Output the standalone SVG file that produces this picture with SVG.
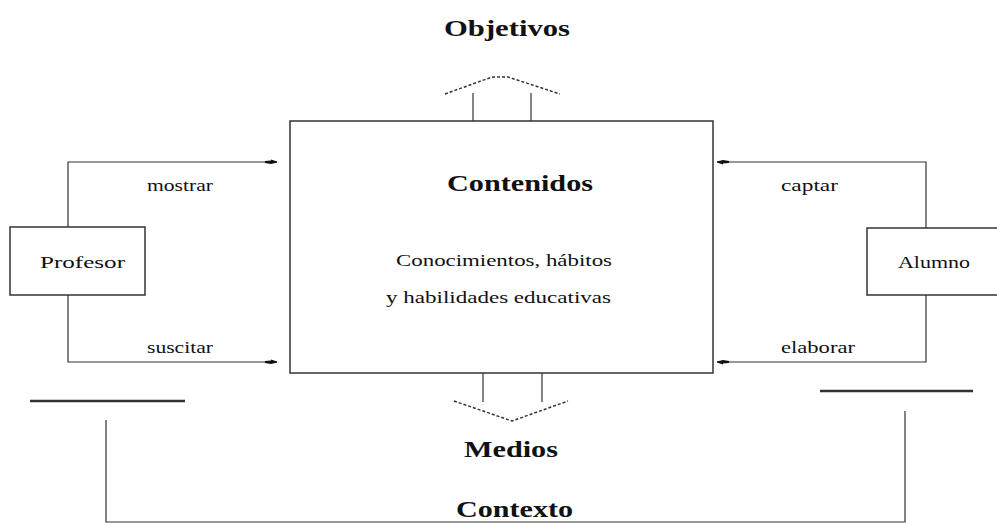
<svg xmlns="http://www.w3.org/2000/svg" width="997" height="525" viewBox="0 0 997 525">
<defs>
<style>
.t{font-family:"Liberation Serif","Times New Roman",serif;fill:#111}
.h{font-size:24px;font-weight:bold}
.s{font-size:17px}
.box{fill:#fff;stroke:#333;stroke-width:1.5}
.ln{fill:none;stroke:#333;stroke-width:1.2}
.thick{fill:none;stroke:#333;stroke-width:2.5}
.dash{fill:none;stroke:#333;stroke-width:1.5;stroke-dasharray:3 2}
</style>
<marker id="ah" viewBox="0 0 12 6" refX="12" refY="3" markerWidth="12" markerHeight="6" markerUnits="userSpaceOnUse" orient="auto">
<path d="M0,2 L6,1.5 L6,0.5 L12,2.5 L12,3.5 L6,5 L0,4 Z" fill="#111"/>
</marker>
</defs>
<rect width="997" height="525" fill="#fff"/>

<g id="contenidos">
<rect class="box" x="290" y="121" width="423" height="252"/>
<text class="t h" x="447" y="191" textLength="146" lengthAdjust="spacingAndGlyphs">Contenidos</text>
<text class="t s" x="396" y="266" textLength="216" lengthAdjust="spacingAndGlyphs">Conocimientos, hábitos</text>
<text class="t s" x="386" y="303" textLength="225" lengthAdjust="spacingAndGlyphs">y habilidades educativas</text>
</g>

<g id="profesor">
<rect class="box" x="10" y="227" width="135" height="68"/>
<text class="t s" x="40" y="268" textLength="85" lengthAdjust="spacingAndGlyphs">Profesor</text>
</g>

<g id="alumno">
<rect class="box" x="867" y="228" width="140" height="67"/>
<text class="t s" x="898" y="268" textLength="72" lengthAdjust="spacingAndGlyphs">Alumno</text>
</g>

<g id="objetivos">
<text class="t h" x="444" y="36" textLength="126" lengthAdjust="spacingAndGlyphs">Objetivos</text>
</g>

<g id="medios">
<text class="t h" x="464" y="457" textLength="94" lengthAdjust="spacingAndGlyphs">Medios</text>
</g>

<g id="contexto">
<text class="t h" x="456" y="517" textLength="117" lengthAdjust="spacingAndGlyphs">Contexto</text>
<line class="thick" x1="30" y1="401" x2="185" y2="401"/>
<line class="thick" x1="820" y1="391" x2="973" y2="391"/>
<polyline class="ln" points="106,420 106,522 905,522 905,411"/>
</g>

<g id="connectors">
<polyline class="ln" points="68,227 68,162 277,162" marker-end="url(#ah)"/>
<polyline class="ln" points="68,295 68,362 277,362" marker-end="url(#ah)"/>
<polyline class="ln" points="926,228 926,162 717,162" marker-end="url(#ah)"/>
<polyline class="ln" points="926,295 926,362 717,362" marker-end="url(#ah)"/>
<text class="t s" x="147" y="191" textLength="66" lengthAdjust="spacingAndGlyphs">mostrar</text>
<text class="t s" x="147" y="353" textLength="66" lengthAdjust="spacingAndGlyphs">suscitar</text>
<text class="t s" x="781" y="191" textLength="57" lengthAdjust="spacingAndGlyphs">captar</text>
<text class="t s" x="781" y="353" textLength="74" lengthAdjust="spacingAndGlyphs">elaborar</text>
<line class="ln" x1="473" y1="93" x2="473" y2="121"/>
<line class="ln" x1="531" y1="93" x2="531" y2="121"/>
<polyline class="dash" points="445,94 492,77 508,77 560,94"/>
<line class="ln" x1="483" y1="373" x2="483" y2="402"/>
<line class="ln" x1="542" y1="373" x2="542" y2="402"/>
<polyline class="dash" points="454,401 512,421 568,401"/>
</g>
</svg>
